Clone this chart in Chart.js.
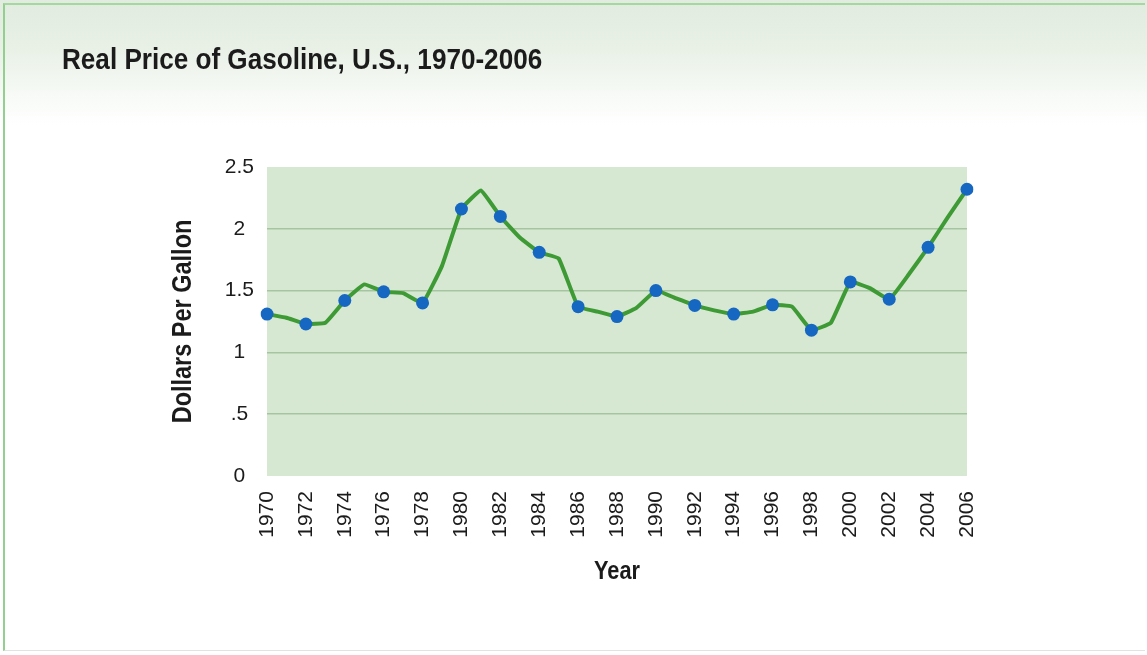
<!DOCTYPE html>
<html>
<head>
<meta charset="utf-8">
<title>Real Price of Gasoline, U.S., 1970-2006</title>
<script src="https://cdn.jsdelivr.net/npm/chart.js@4.4.1/dist/chart.umd.min.js"></script>
<style>
  html, body { margin: 0; padding: 0; background: #ffffff; }
  #card {
    position: absolute; left: 0; top: 0; width: 1147px; height: 655px;
    overflow: hidden;
    background: linear-gradient(to bottom, #e1ebdf 0px, #e9f1e7 50px, #f7faf6 95px, #ffffff 125px);
  }
  #frame {
    position: absolute; left: 3px; top: 3px; width: 1142px; height: 648px;
    border-left: 2px solid #93cf8f;
    border-top: 2px solid #a5d8a1;
    border-bottom: 1px solid #e2e2e2;
    box-sizing: border-box;
  }
  #chart { position: absolute; left: 0; top: 0; }
</style>
</head>
<body>
<div id="card">
  <div id="frame"></div>
  <canvas id="chart" width="1147" height="655"></canvas>
</div>
<script>
// Years on the horizontal axis (one entry per year)
const years = [
  '1970','1971','1972','1973','1974','1975','1976','1977','1978','1979',
  '1980','1981','1982','1983','1984','1985','1986','1987','1988','1989',
  '1990','1991','1992','1993','1994','1995','1996','1997','1998','1999',
  '2000','2001','2002','2003','2004','2005','2006'
];

// Real price of gasoline, dollars per gallon
const pricePerGallon = [
  1.31, 1.28, 1.23, 1.24, 1.42, 1.55, 1.49, 1.48, 1.40, 1.70,
  2.16, 2.31, 2.10, 1.93, 1.81, 1.76, 1.37, 1.33, 1.29, 1.36,
  1.50, 1.44, 1.38, 1.34, 1.31, 1.33, 1.385, 1.37, 1.18, 1.24,
  1.57, 1.52, 1.43, 1.63, 1.85, 2.09, 2.32
];

// Labels for the vertical axis ticks, keyed by value
const yTickValues = [0, 0.5, 1, 1.5, 2, 2.5];
const yTickLabels = ['0', '.5', '1', '1.5', '2', '2.5'];

const boldFamily = "'Liberation Sans', Arial, sans-serif";
const tickFamily = "'Liberation Sans', Arial, sans-serif";
const textColor = '#1b1b1b';
const CONDENSE = 0.87;   // horizontal squeeze for the bold headings

// Fills the plotting rectangle with the pale green panel
const panelBackground = {
  id: 'panelBackground',
  beforeDraw(chart) {
    const { ctx, chartArea } = chart;
    ctx.save();
    ctx.fillStyle = '#d6e8d2';
    ctx.fillRect(chartArea.left, chartArea.top,
                 chartArea.right - chartArea.left, chartArea.bottom - chartArea.top);
    ctx.restore();
  }
};

// Draws the chart title and axis titles in a condensed face by
// squeezing the canvas along the reading direction of each text.
function squeeze(target, method, ctx, applyTransform) {
  if (!target || target['__squeezed_' + method]) return;
  const original = target[method].bind(target);
  target[method] = function (...args) {
    ctx.save();
    applyTransform();
    const r = original(...args);
    ctx.restore();
    return r;
  };
  target['__squeezed_' + method] = true;
}

const condensedHeadings = {
  id: 'condensedHeadings',
  beforeDraw(chart) {
    const ctx = chart.ctx;
    const area = chart.chartArea;
    const tb = chart.titleBlock;
    squeeze(tb, 'draw', ctx, () => {
      ctx.translate(tb.left, 0); ctx.scale(CONDENSE, 1); ctx.translate(-tb.left, 0);
    });
    squeeze(chart.scales.x, 'drawTitle', ctx, () => {
      const cx = (area.left + area.right) / 2;
      ctx.translate(cx, 0); ctx.scale(CONDENSE, 1); ctx.translate(-cx, 0);
    });
    squeeze(chart.scales.y, 'drawTitle', ctx, () => {
      const cy = (area.top + area.bottom) / 2;
      ctx.translate(0, cy); ctx.scale(1, CONDENSE); ctx.translate(0, -cy);
    });
  }
};

new Chart(document.getElementById('chart'), {
  type: 'line',
  data: {
    labels: years,
    datasets: [{
      label: 'Dollars Per Gallon',
      data: pricePerGallon,
      borderColor: '#3e9a34',
      borderWidth: 4,
      borderJoinStyle: 'round',
      borderCapStyle: 'round',
      tension: 0.1,
      fill: false,
      pointRadius: ctx => (ctx.dataIndex % 2 === 0 ? 6.5 : 0),
      pointHoverRadius: ctx => (ctx.dataIndex % 2 === 0 ? 6.5 : 0),
      pointBackgroundColor: '#1667c2',
      pointBorderColor: '#1667c2',
      pointBorderWidth: 0
    }]
  },
  options: {
    responsive: false,
    animation: false,
    devicePixelRatio: 1,
    layout: { padding: { left: 62, right: 180, top: 0, bottom: 0 } },
    plugins: {
      legend: { display: false },
      tooltip: { enabled: false },
      title: {
        display: true,
        text: 'Real Price of Gasoline, U.S., 1970-2006',
        align: 'start',
        color: textColor,
        font: { family: boldFamily, size: 30, weight: 'bold' },
        padding: { top: 43, bottom: 88 }
      }
    },
    scales: {
      x: {
        type: 'category',
        offset: false,
        grid: { display: false, drawTicks: false },
        border: { display: false },
        ticks: {
          autoSkip: false,
          maxRotation: 90,
          minRotation: 90,
          padding: 15,
          color: textColor,
          font: { family: tickFamily, size: 21 },
          callback: (value, index) => (index % 2 === 0 ? years[index] : '')
        },
        title: {
          display: true,
          text: 'Year',
          color: textColor,
          font: { family: boldFamily, size: 25, weight: 'bold' },
          padding: { top: 0, bottom: 68 }
        },
        afterFit(scale) { scale.height = 179; }
      },
      y: {
        min: 0,
        max: 2.5,
        grid: {
          drawTicks: false,
          lineWidth: 1.5,
          color: ctx => (ctx.tick && (ctx.tick.value === 0 || ctx.tick.value === 2.5)
                          ? 'rgba(0,0,0,0)' : '#a6c4a0')
        },
        border: { display: false },
        ticks: {
          stepSize: 0.5,
          padding: 13,
          crossAlign: 'center',
          color: textColor,
          font: { family: tickFamily, size: 21 },
          callback: value => {
            const i = yTickValues.indexOf(value);
            return i >= 0 ? yTickLabels[i] : '';
          }
        },
        title: {
          display: true,
          text: 'Dollars Per Gallon',
          color: textColor,
          font: { family: boldFamily, size: 27, weight: 'bold' },
          padding: { top: 105, bottom: 0 }
        },
        afterFit(scale) { scale.width = 205; }
      }
    }
  },
  plugins: [panelBackground, condensedHeadings]
});
</script>
</body>
</html>
